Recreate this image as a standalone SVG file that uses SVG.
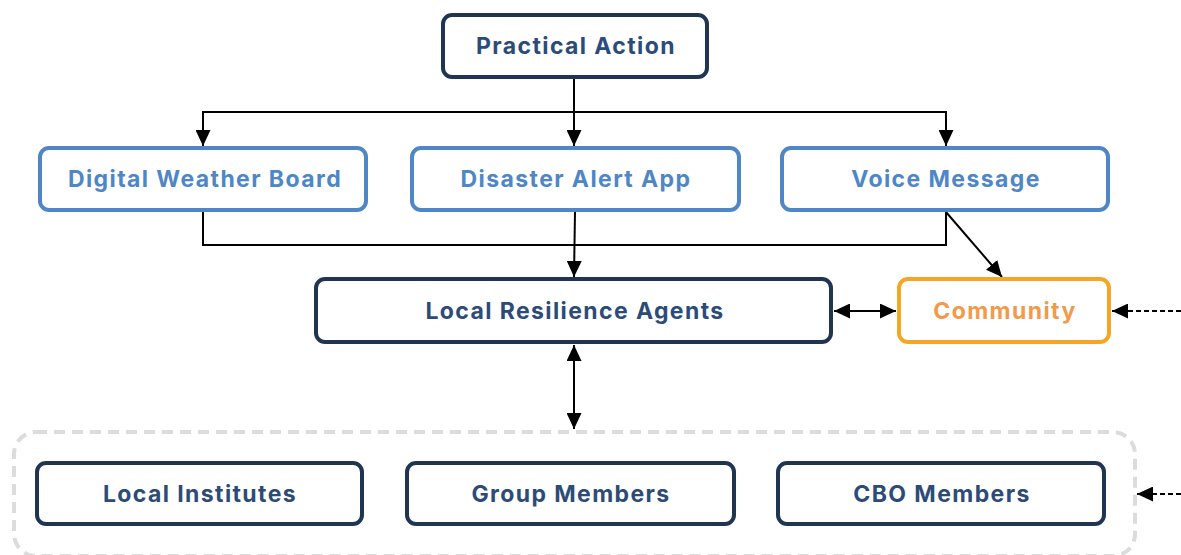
<svg xmlns="http://www.w3.org/2000/svg" width="1181" height="555" viewBox="0 0 1181 555">
<style>
.box{fill:#fff;stroke-width:4}
.dark{stroke:#1f3552}
.blue{stroke:#4f86c6}
.orange{stroke:#f5a623}
.t{font-family:Inter,"Liberation Sans",sans-serif;font-weight:700;font-size:23px;letter-spacing:1.4px;text-anchor:middle;dominant-baseline:central}
.td{fill:#2c4b78}
.tb{fill:#4f86c6}
.to{fill:#f29a4a}
.ln{fill:none;stroke:#000;stroke-width:2}
.dash{stroke-dasharray:5 3}
</style>
<defs>
<marker id="ah" markerUnits="userSpaceOnUse" markerWidth="17" markerHeight="15" viewBox="0 0 17 15" refX="16" refY="7.5" orient="auto-start-reverse">
<path d="M0,0 L16,7.5 L0,15 Z" fill="#000"/>
</marker>
</defs>
<rect x="14" y="432" width="1121" height="124" rx="22" fill="none" stroke="#dcdcdc" stroke-width="4" stroke-dasharray="11 7"/>
<g id="connectors">
<path class="ln" d="M574,79 V146" marker-end="url(#ah)"/>
<path class="ln" d="M203,146 V112 H946 V146" marker-start="url(#ah)" marker-end="url(#ah)"/>
<path class="ln" d="M203,212 V245 H946 V212"/>
<path class="ln" d="M575,212 L574,277" marker-end="url(#ah)"/>
<path class="ln" d="M946,212 L1002,277" marker-end="url(#ah)"/>
<path class="ln" d="M834,311 H896" marker-start="url(#ah)" marker-end="url(#ah)"/>
<path class="ln dash" d="M1181,311 H1112" marker-end="url(#ah)"/>
<path class="ln" d="M574,345 V429" marker-start="url(#ah)" marker-end="url(#ah)"/>
<path class="ln dash" d="M1181,494 H1137" marker-end="url(#ah)"/>
</g>
<g id="practical-action"><rect class="box dark" x="443" y="15" width="264" height="62" rx="9"/><text class="t td" x="576" y="46">Practical Action</text></g>
<g id="digital-weather-board"><rect class="box blue" x="40" y="148" width="326" height="62" rx="9"/><text class="t tb" x="205" y="179">Digital Weather Board</text></g>
<g id="disaster-alert-app"><rect class="box blue" x="412" y="148" width="327" height="62" rx="9"/><text class="t tb" x="576" y="179">Disaster Alert App</text></g>
<g id="voice-message"><rect class="box blue" x="782" y="148" width="326" height="62" rx="9"/><text class="t tb" x="946" y="179">Voice Message</text></g>
<g id="local-resilience-agents"><rect class="box dark" x="316" y="279" width="515" height="63" rx="9"/><text class="t td" x="575" y="311">Local Resilience Agents</text></g>
<g id="community"><rect class="box orange" x="899" y="279" width="210" height="63" rx="9"/><text class="t to" x="1005" y="311">Community</text></g>
<g id="local-institutes"><rect class="box dark" x="37" y="463" width="325" height="61" rx="9"/><text class="t td" x="200" y="494">Local Institutes</text></g>
<g id="group-members"><rect class="box dark" x="407" y="463" width="327" height="61" rx="9"/><text class="t td" x="571" y="494">Group Members</text></g>
<g id="cbo-members"><rect class="box dark" x="778" y="463" width="326" height="61" rx="9"/><text class="t td" x="942" y="494">CBO Members</text></g>
</svg>
